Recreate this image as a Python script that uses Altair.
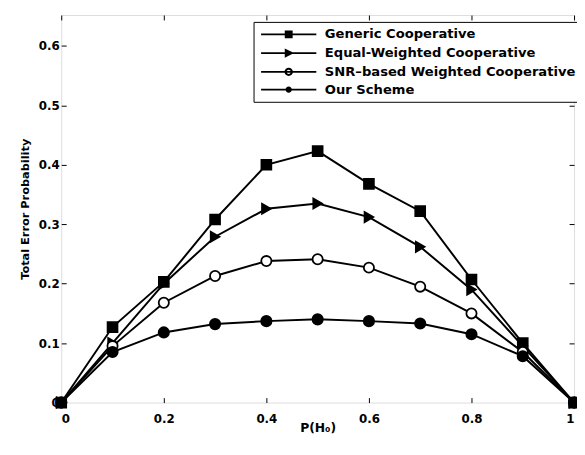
import altair as alt
import pandas as pd

x_vals = [0.0, 0.1, 0.2, 0.3, 0.4, 0.5, 0.6, 0.7, 0.8, 0.9, 1.0]
series_names = ["Generic Cooperative", "Equal-Weighted Cooperative",
                "SNR–based Weighted Cooperative", "Our Scheme"]
generic = [0.0, 0.127, 0.203, 0.308, 0.400, 0.423, 0.368, 0.322, 0.207, 0.100, 0.0]
equal_w = [0.0, 0.100, 0.200, 0.279, 0.326, 0.335, 0.312, 0.262, 0.190, 0.095, 0.0]
snr_w = [0.0, 0.095, 0.168, 0.213, 0.238, 0.241, 0.227, 0.195, 0.150, 0.085, 0.0]
ours = [0.0, 0.085, 0.118, 0.132, 0.137, 0.140, 0.137, 0.133, 0.115, 0.078, 0.0]
x_ticks = [0, 0.2, 0.4, 0.6, 0.8, 1.0]
y_ticks = [0, 0.1, 0.2, 0.3, 0.4, 0.5, 0.6]

rows = []
for name, vals in zip(series_names, [generic, equal_w, snr_w, ours]):
    for xv, yv in zip(x_vals, vals):
        rows.append({"x": xv, "y": yv, "series": name})
df = pd.DataFrame(rows)

FONT = "DejaVu Sans"
xscale = alt.Scale(domain=[0, 1], nice=False, zero=False)
yscale = alt.Scale(domain=[0, 0.652], nice=False, zero=False)

lbl = "datum.value == 0 ? '0' : format(datum.value, '~g')"

x_bottom = alt.Axis(orient="bottom", values=x_ticks, domain=False, grid=False,
                    tickSize=5, offset=-5, tickColor="black", tickWidth=1,
                    labelPadding=11, labelExpr=lbl, labelFont=FONT, labelFontSize=12,
                    labelFontWeight="bold", labelColor="black",
                    title="P(H₀)", titleFont=FONT, titleFontSize=12.5,
                    titleFontWeight="bold", titleColor="black", titlePadding=-3)
y_left = alt.Axis(orient="left", values=y_ticks, domain=False, grid=False,
                  tickSize=5, offset=-5, tickColor="black", tickWidth=1,
                  labelPadding=2, labelExpr=lbl, labelFont=FONT, labelFontSize=12,
                  labelFontWeight="bold", labelColor="black",
                  title="Total Error Probability", titleFont=FONT, titleFontSize=11.5,
                  titleFontWeight="bold", titleColor="black", titlePadding=8)
x_top = alt.Axis(orient="top", values=x_ticks, domain=False, grid=False,
                 tickSize=5, offset=-5, tickColor="black", tickWidth=1,
                 labels=False, title=None)
y_right = alt.Axis(orient="right", values=y_ticks, domain=False, grid=False,
                   tickSize=5, offset=-5, tickColor="black", tickWidth=1,
                   labels=False, title=None)

lines = alt.Chart(df).mark_line(color="black", strokeWidth=2).encode(
    x=alt.X("x:Q", scale=xscale, axis=x_bottom),
    y=alt.Y("y:Q", scale=yscale, axis=y_left),
    detail="series:N",
)

points = alt.Chart(df).mark_point(stroke="black", strokeWidth=1.8, opacity=1).encode(
    x=alt.X("x:Q", scale=xscale, axis=x_top),
    y=alt.Y("y:Q", scale=yscale, axis=y_right),
    shape=alt.Shape("series:N", scale=alt.Scale(domain=series_names,
                    range=["square", "triangle-right", "circle", "circle"]), legend=None),
    fill=alt.Fill("series:N", scale=alt.Scale(domain=series_names,
                  range=["black", "black", "white", "black"]), legend=None),
    size=alt.Size("series:N", scale=alt.Scale(domain=series_names,
                  range=[100, 110, 75, 55]), legend=None),
)

line_seg = "M-5.6,-0.17H5.6V0.17H-5.6Z"
leg_paths = [
    line_seg + "M-0.8,-0.8H0.8V0.8H-0.8Z",
    line_seg + "M-0.8,-0.95L1.1,0L-0.8,0.95Z",
    line_seg + "M0.85,0A0.85,0.85 0 1,1 -0.85,0A0.85,0.85 0 1,1 0.85,0Z"
    "M0.45,0A0.45,0.45 0 1,0 -0.45,0A0.45,0.45 0 1,0 0.45,0Z",
    line_seg + "M0.65,0A0.65,0.65 0 1,1 -0.65,0A0.65,0.65 0 1,1 0.65,0Z",
]

legend_layer = alt.Chart(df).transform_filter("false").mark_point(
    filled=True, fill="black", stroke="black", strokeWidth=1.5).encode(
    x=alt.X("x:Q", scale=xscale, axis=None),
    y=alt.Y("y:Q", scale=yscale, axis=None),
    shape=alt.Shape("series:N", scale=alt.Scale(domain=series_names, range=leg_paths),
                    legend=alt.Legend(orient="none", legendX=195, legendY=7, title=None,
                                      symbolSize=100, symbolStrokeWidth=1.5,
                                      symbolFillColor="black", symbolStrokeColor="black",
                                      symbolOpacity=1, symbolOffset=23, labelOffset=30,
                                      labelFont=FONT, labelFontSize=13.3,
                                      labelFontWeight="bold", labelColor="black",
                                      labelLimit=0, padding=6, rowPadding=3,
                                      strokeColor="black", fillColor="white")),
)

chart = alt.layer(lines, points, legend_layer).resolve_scale(
    shape="independent"
).resolve_axis(x="independent", y="independent").properties(
    width=520, height=393,
    autosize=alt.AutoSizeParams(type="none"),
    padding={"left": 54, "top": 4, "right": 3, "bottom": 45},
).configure_view(stroke="black", strokeWidth=1.5).configure(background="white")

chart.save("out.html", embed_options={"renderer": "svg", "actions": False})
